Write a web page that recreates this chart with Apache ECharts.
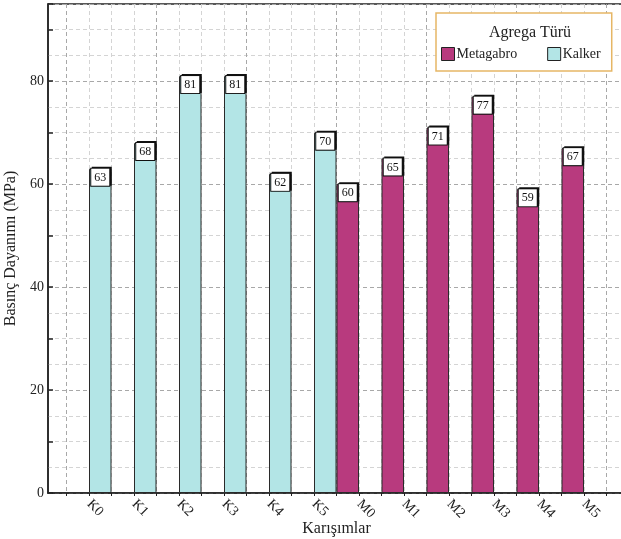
<!DOCTYPE html>
<html>
<head>
<meta charset="utf-8">
<script src="https://cdn.jsdelivr.net/npm/echarts@6/dist/echarts.min.js"></script>
<style>
  html, body { margin: 0; padding: 0; background: #fff; }
  #chart { width: 621px; height: 539px; }
</style>
</head>
<body>
<div id="chart"></div>
<script>
// Mixture names along the x axis
const categories = ['K0', 'K1', 'K2', 'K3', 'K4', 'K5', 'M0', 'M1', 'M2', 'M3', 'M4', 'M5'];
// Compressive strength (MPa) per mixture, one array per aggregate type
const kalkerValues    = [63, 68, 81, 81, 62, 70, null, null, null, null, null, null];
const metagabroValues = [null, null, null, null, null, null, 60, 65, 71, 77, 59, 67];
const seriesNames = ['Metagabro', 'Kalker'];
const legendTitle = 'Agrega Türü';
const xTitle = 'Karışımlar';
const yTitle = 'Basınç Dayanımı (MPa)';

const FONT = "'Liberation Serif', 'DejaVu Serif', serif";
const KALKER = '#b3e5e6';
const METAGABRO = '#b83a7e';

function toPoints(values) {
  const pts = [];
  values.forEach((v, i) => { if (v != null) pts.push([i, v]); });
  return pts;
}

const valueLabel = {
  show: true,
  position: 'insideTop',
  distance: 0,
  formatter: p => String(p.value[1]),
  fontFamily: FONT,
  fontSize: 12,
  color: '#111',
  backgroundColor: '#fff',
  borderColor: '#111',
  borderWidth: 1,
  width: 18,
  align: 'center',
  padding: [3, 0, 2, 0],
  shadowColor: '#111',
  shadowOffsetX: 1.5,
  shadowOffsetY: -1
};

const chart = echarts.init(document.getElementById('chart'), null, { renderer: 'canvas' });

chart.setOption({
  animation: false,
  backgroundColor: '#fff',
  textStyle: { fontFamily: FONT },
  title: {
    text: legendTitle,
    left: 525,
    top: 20,
    textAlign: 'center',
    textStyle: { fontFamily: FONT, fontSize: 16, fontWeight: 'normal', color: '#222' }
  },
  legend: {
    left: 436,
    top: 13,
    orient: 'horizontal',
    backgroundColor: '#fff',
    borderColor: '#e6b665',
    borderWidth: 1.5,
    padding: [34, 11, 10, 5],
    itemGap: 30,
    itemWidth: 13,
    itemHeight: 13,
    icon: 'rect',
    textStyle: { fontFamily: FONT, fontSize: 14, color: '#222', padding: [0, 0, 0, -3] },
    data: [
      { name: seriesNames[0], itemStyle: { color: METAGABRO, borderColor: '#222', borderWidth: 1 } },
      { name: seriesNames[1], itemStyle: { color: KALKER, borderColor: '#222', borderWidth: 1 } }
    ]
  },
  grid: [
    // outer frame, y scale and horizontal grid
    { left: 48, top: 4, width: 577, bottom: 46, show: true, borderColor: '#222', borderWidth: 1.5,
      backgroundColor: 'transparent', containLabel: false, outerBoundsMode: 'none' },
    // bar area
    { left: 66.5, top: 4, width: 540, bottom: 46, containLabel: false, outerBoundsMode: 'none' }
  ],
  xAxis: [
    {
      gridIndex: 0, type: 'value', min: 0, max: 1,
      name: xTitle, nameLocation: 'middle', nameGap: 28,
      nameTextStyle: { fontFamily: FONT, fontSize: 16, color: '#222' },
      axisLine: { show: true, lineStyle: { color: '#222', width: 1.5 } },
      axisTick: { show: false }, axisLabel: { show: false }, splitLine: { show: false }
    },
    {
      gridIndex: 1, type: 'value', min: -0.5, max: 11.5, interval: 0.5,
      axisLine: { show: false },
      axisTick: { show: true, length: 3, lineStyle: { color: '#222', width: 1 } },
      axisLabel: {
        show: true, rotate: -45, margin: 9,
        fontFamily: FONT, fontSize: 14, color: '#222',
        formatter: v => {
          const r = Math.round(v);
          return (Math.abs(v - r) < 1e-6 && r >= 0 && r < categories.length) ? categories[r] : '';
        }
      },
      splitLine: {
        show: true,
        lineStyle: { type: [4, 3], width: 1, color: ['#a8a8a8', '#d4d4d4', '#d4d4d4', '#d4d4d4'] }
      }
    }
  ],
  yAxis: [
    {
      gridIndex: 0, type: 'value', min: 0, max: 95, interval: 10,
      name: yTitle, nameLocation: 'middle', nameGap: 8,
      nameTextStyle: { fontFamily: FONT, fontSize: 16, color: '#222', verticalAlign: 'middle' },
      axisLine: { show: true, lineStyle: { color: '#222', width: 1.5 } },
      axisTick: { show: true, inside: true, length: 5, lineStyle: { color: '#222', width: 1.5 } },
      axisLabel: {
        fontFamily: FONT, fontSize: 14, color: '#222', margin: 4,
        formatter: v => (v % 20 === 0 ? String(v) : '')
      },
      splitLine: { show: true, lineStyle: { type: [4, 3], width: 1, color: ['#a8a8a8', '#d4d4d4'] } },
      minorTick: { show: false, splitNumber: 2 },
      minorSplitLine: { show: true, lineStyle: { type: [4, 3], width: 1, color: '#d4d4d4' } }
    },
    {
      gridIndex: 1, type: 'value', min: 0, max: 95, show: false,
      splitLine: { show: false }
    }
  ],
  series: [
    {
      name: seriesNames[0], type: 'bar', xAxisIndex: 1, yAxisIndex: 1,
      data: toPoints(metagabroValues),
      barWidth: 22.5, barGap: '0%',
      itemStyle: { color: METAGABRO, borderColor: '#2a2a2a', borderWidth: 1 },
      label: valueLabel
    },
    {
      name: seriesNames[1], type: 'bar', xAxisIndex: 1, yAxisIndex: 1,
      data: toPoints(kalkerValues),
      barWidth: 22.5, barGap: '0%',
      itemStyle: { color: KALKER, borderColor: '#2a2a2a', borderWidth: 1 },
      label: valueLabel
    }
  ]
});
</script>
</body>
</html>
